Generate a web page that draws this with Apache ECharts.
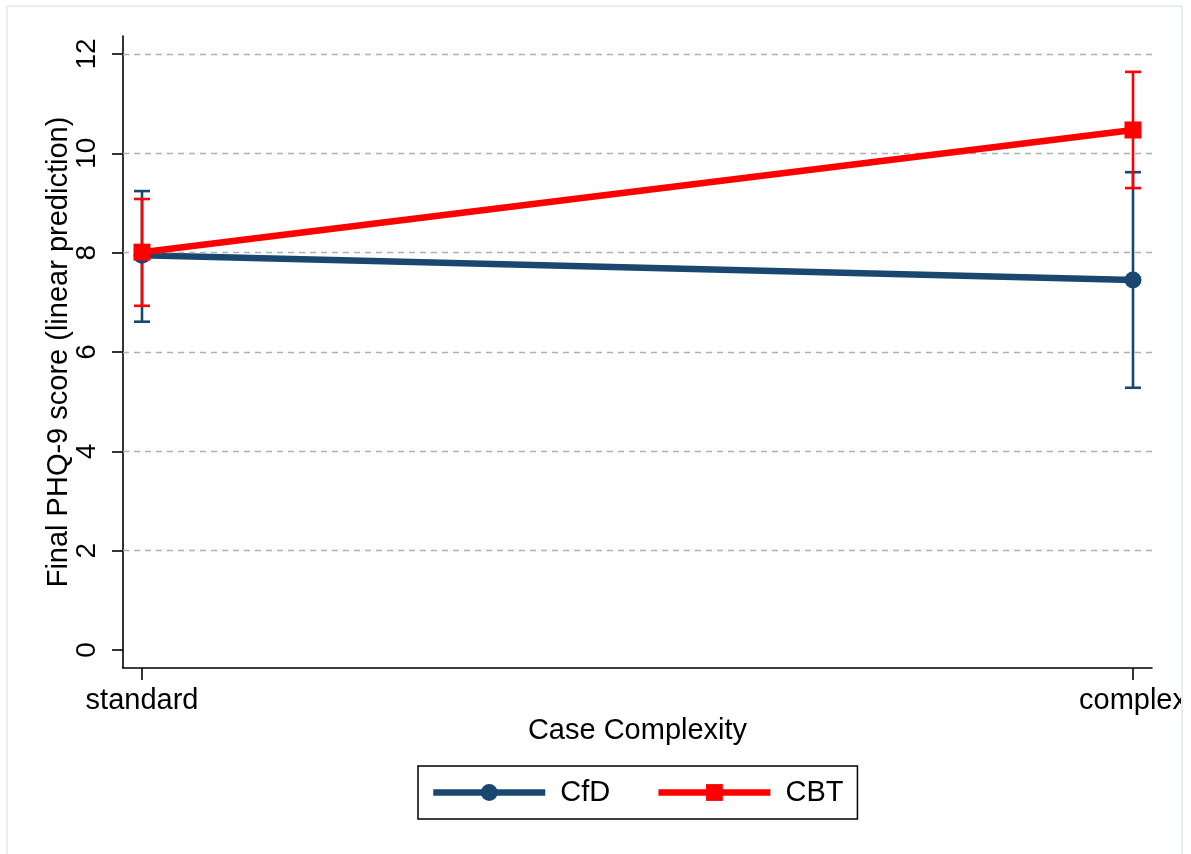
<!DOCTYPE html>
<html>
<head>
<meta charset="utf-8">
<script src="https://cdn.jsdelivr.net/npm/echarts@6/dist/echarts.min.js"></script>
<style>html,body{margin:0;padding:0;background:#fff}#c{width:1191px;height:854px}</style>
</head>
<body>
<div id="c"></div>
<script>
var categories = ['standard', 'complex'];
var yTicks = [0, 2, 4, 6, 8, 10, 12];
var cfdMean = [7.95, 7.45];
var cfdLow = [6.61, 5.28];
var cfdHigh = [9.24, 9.62];
var cbtMean = [8.01, 10.47];
var cbtLow = [6.93, 9.30];
var cbtHigh = [9.08, 11.64];

var NAVY = '#1a476f', RED = '#ff0000';
var FONT = 'Liberation Sans, Arial, Helvetica, sans-serif';

function pts(m) { return m.map(function (v, i) { return [i, v]; }); }
function ci(lo, hi) { return lo.map(function (v, i) { return [i, v, hi[i]]; }); }

function capRender(color) {
  return function (params, api) {
    var x = api.value(0);
    var lo = api.coord([x, api.value(1)]);
    var hi = api.coord([x, api.value(2)]);
    var hw = 8;
    var st = { stroke: color, lineWidth: 2.6, fill: null };
    return {
      type: 'group',
      children: [
        { type: 'line', shape: { x1: lo[0], y1: lo[1], x2: hi[0], y2: hi[1] }, style: st },
        { type: 'line', shape: { x1: lo[0] - hw, y1: lo[1], x2: lo[0] + hw, y2: lo[1] }, style: st },
        { type: 'line', shape: { x1: hi[0] - hw, y1: hi[1], x2: hi[0] + hw, y2: hi[1] }, style: st }
      ]
    };
  };
}

var chart = echarts.init(document.getElementById('c'), null, { renderer: 'canvas' });
var pad = 19 / 991;
chart.setOption({
  backgroundColor: '#ffffff',
  animation: false,
  textStyle: { fontFamily: FONT, color: '#000' },
  grid: { left: 123, right: 1191 - 1152, top: 36, bottom: 854 - 668 },
  graphic: [
    { type: 'rect', z: 100, shape: { x: 1183, y: 0, width: 8, height: 854 }, style: { fill: '#fff' } },
    { type: 'rect', z: 101, shape: { x: 7, y: 6, width: 1175, height: 900 }, style: { fill: null, stroke: '#e6eef1', lineWidth: 2 } }
  ],
  xAxis: {
    type: 'value',
    min: -pad, max: 1 + pad,
    name: 'Case Complexity',
    nameLocation: 'middle',
    nameGap: 48,
    nameMoveOverlap: false,
    nameTextStyle: { fontSize: 29, color: '#000', fontFamily: FONT },
    axisLine: { show: true, onZero: false, lineStyle: { color: '#000', width: 1.6 } },
    axisTick: { show: true, length: 12, customValues: [0, 1], lineStyle: { color: '#000', width: 1.6 } },
    axisLabel: { customValues: [0, 1], fontSize: 29, color: '#000', margin: 18, fontFamily: FONT,
      formatter: function (v) { return categories[Math.round(v)]; } },
    splitLine: { show: false }
  },
  yAxis: {
    type: 'value',
    min: -0.362, max: 12.362,
    name: 'Final PHQ-9 score (linear prediction)',
    nameLocation: 'middle',
    nameGap: 50,
    nameRotate: 90,
    nameMoveOverlap: false,
    nameTextStyle: { fontSize: 29, color: '#000', fontFamily: FONT },
    axisLine: { show: true, onZero: false, lineStyle: { color: '#000', width: 1.6 } },
    axisTick: { show: true, length: 11, customValues: yTicks, lineStyle: { color: '#000', width: 1.6 } },
    axisLabel: { customValues: yTicks, rotate: 90, fontSize: 28, color: '#000', margin: 22, fontFamily: FONT },
    splitLine: { show: false }
  },
  legend: {
    left: 418, top: 766,
    orient: 'horizontal',
    padding: [12, 14, 12, 12],
    borderColor: '#000', borderWidth: 1.5,
    itemWidth: 112, itemHeight: 21, itemGap: 45,
    lineStyle: { width: 6.5 },
    textStyle: { fontSize: 29, color: '#000', fontFamily: FONT, padding: [0, 0, 0, 10] },
    data: ['CfD', 'CBT']
  },
  series: [
    {
      type: 'line', name: '_grid', data: [], silent: true,
      markLine: {
        silent: true, symbol: ['none', 'none'], label: { show: false },
        lineStyle: { color: '#aab3b3', width: 1.4, type: [6, 5] },
        data: yTicks.filter(function (v) { return v > 0; }).map(function (v) { return { yAxis: v }; })
      },
      z: 1
    },
    { type: 'custom', name: 'CfD CI', renderItem: capRender(NAVY), data: ci(cfdLow, cfdHigh), z: 2 },
    { type: 'custom', name: 'CBT CI', renderItem: capRender(RED), data: ci(cbtLow, cbtHigh), z: 3 },
    {
      type: 'line', name: 'CfD', data: pts(cfdMean), symbol: 'circle', symbolSize: 17,
      lineStyle: { color: NAVY, width: 6.5 }, itemStyle: { color: NAVY }, z: 4
    },
    {
      type: 'line', name: 'CBT', data: pts(cbtMean), symbol: 'rect', symbolSize: 17,
      lineStyle: { color: RED, width: 6.5 }, itemStyle: { color: RED }, z: 5
    }
  ]
});
</script>
</body>
</html>
